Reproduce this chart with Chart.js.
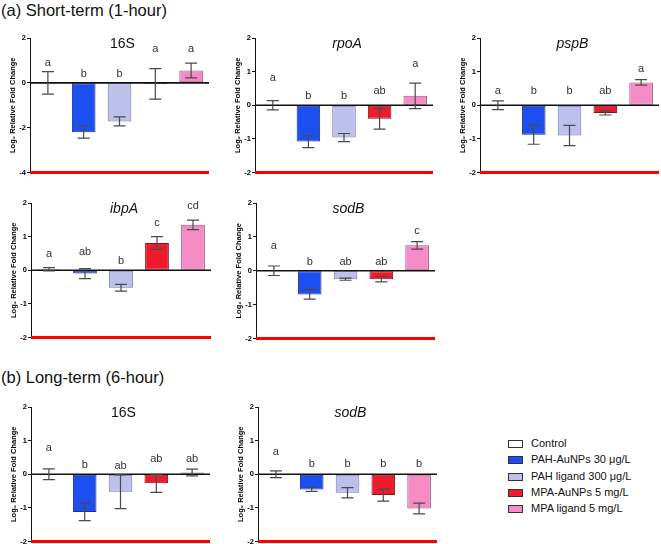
<!DOCTYPE html>
<html>
<head>
<meta charset="utf-8">
<script src="https://cdn.jsdelivr.net/npm/chart.js@4.4.1/dist/chart.umd.min.js"></script>
<style>
  body { margin: 0; background: #fff; font-family: "Liberation Sans", Arial, sans-serif; }
  #wrap { position: relative; width: 661px; height: 544px; overflow: hidden; }
  .head { position: absolute; left: 1px; font-size: 16.5px; color: #111; white-space: nowrap; }
  canvas.panel { position: absolute; }
  .leg { position: absolute; left: 508px; font-size: 11px; color: #111; white-space: nowrap; }
  .leg span.box { position: absolute; left: 0; top: 3px; width: 13px; height: 6px; border: 1px solid #333; }
  .leg span.txt { position: absolute; left: 23px; top: 0; }
</style>
</head>
<body>
<div id="wrap">
  <div class="head" style="top:1px">(a) Short-term (1-hour)</div>
  <div class="head" style="top:368px">(b) Long-term (6-hour)</div>
</div>
<script>
// treatment groups (one bar each per panel)
const groups = ["Control", "PAH-AuNPs 30 μg/L", "PAH ligand 300 μg/L", "MPA-AuNPs 5 mg/L", "MPA ligand 5 mg/L"];
const fills = ["#ffffff", "#1c4ff0", "#bcc0ea", "#ee1b2c", "#f58cc6"];
const borders = ["#555555", "#1a2f8a", "#6f73a8", "#8a1018", "#9a5a7c"];

// (a) short-term, 16S
const s16Mean = [0, -2.2, -1.72, -0.05, 0.55];
const s16Err = [0.5, 0.27, 0.2, 0.68, 0.33];
const s16Letters = ["a", "b", "b", "a", "a"];
const s16LetterY = [0.9, 0.4, 0.4, 1.5, 1.5];

// (a) short-term, rpoA
const rpoMean = [0, -1.08, -0.96, -0.4, 0.28];
const rpoErr = [0.14, 0.18, 0.12, 0.31, 0.38];
const rpoLetters = ["a", "b", "b", "ab", "a"];
const rpoLetterY = [0.81, 0.28, 0.28, 0.41, 1.23];

// (a) short-term, pspB
const pspMean = [0, -0.88, -0.9, -0.23, 0.68];
const pspErr = [0.13, 0.28, 0.3, 0.06, 0.08];
const pspLetters = ["a", "b", "b", "ab", "a"];
const pspLetterY = [0.42, 0.42, 0.42, 0.42, 1.07];

// (a) short-term, ibpA
const ibpMean = [0.03, -0.1, -0.52, 0.81, 1.35];
const ibpErr = [0.05, 0.15, 0.1, 0.19, 0.14];
const ibpLetters = ["a", "ab", "b", "c", "cd"];
const ibpLetterY = [0.48, 0.53, 0.28, 1.42, 1.92];

// (a) short-term, sodB
const sodMean = [0, -0.7, -0.25, -0.25, 0.75];
const sodErr = [0.14, 0.14, 0.03, 0.08, 0.11];
const sodLetters = ["a", "b", "ab", "ab", "c"];
const sodLetterY = [0.74, 0.27, 0.27, 0.27, 1.18];

// (b) long-term, 16S
const l16Mean = [0, -1.12, -0.52, -0.27, 0.05];
const l16Err = [0.16, 0.26, 0.5, 0.27, 0.1];
const l16Letters = ["a", "b", "ab", "ab", "ab"];
const l16LetterY = [0.77, 0.28, 0.26, 0.46, 0.46];

// (b) long-term, sodB
const lsodMean = [0, -0.45, -0.55, -0.62, -1.02];
const lsodErr = [0.1, 0.06, 0.15, 0.18, 0.16];
const lsodLetters = ["a", "b", "b", "b", "b"];
const lsodLetterY = [0.67, 0.3, 0.3, 0.3, 0.3];

// panel layout: plot area box in page pixels
const panels = [
  { title: "16S", italic: false, mean: s16Mean, err: s16Err, letters: s16Letters, ly: s16LetterY, min: -4, step: 2, box: [30, 38, 179, 134] },
  { title: "rpoA", italic: true, mean: rpoMean, err: rpoErr, letters: rpoLetters, ly: rpoLetterY, min: -2, step: 1, box: [255, 38, 178, 134] },
  { title: "pspB", italic: true, mean: pspMean, err: pspErr, letters: pspLetters, ly: pspLetterY, min: -2, step: 1, box: [480, 38, 179, 134] },
  { title: "ibpA", italic: true, mean: ibpMean, err: ibpErr, letters: ibpLetters, ly: ibpLetterY, min: -2, step: 1, box: [31, 203, 180, 134] },
  { title: "sodB", italic: true, mean: sodMean, err: sodErr, letters: sodLetters, ly: sodLetterY, min: -2, step: 1, box: [256, 203, 179, 135] },
  { title: "16S", italic: false, mean: l16Mean, err: l16Err, letters: l16Letters, ly: l16LetterY, min: -2, step: 1, box: [31, 407, 179, 134] },
  { title: "sodB", italic: true, mean: lsodMean, err: lsodErr, letters: lsodLetters, ly: lsodLetterY, min: -2, step: 1, box: [258, 407, 179, 134] }
];

const AXIS_W = 30, PAD_T = 6, PAD_R = 2, PAD_B = 3, X_EXTRA = 3;
const FONT = "'Liberation Sans', Arial, sans-serif";

// bottom axis line, zero line, error bars, letters and panel title
const decor = {
  id: "decor",
  afterDatasetsDraw(chart, args, opts) {
    const ctx = chart.ctx;
    const x = chart.scales.x, y = chart.scales.y;
    const area = chart.chartArea;
    ctx.save();
    // bottom axis line
    ctx.strokeStyle = "red";
    ctx.lineWidth = 3;
    ctx.beginPath();
    ctx.moveTo(area.left, area.bottom);
    ctx.lineTo(area.right, area.bottom);
    ctx.stroke();
    // zero line
    ctx.strokeStyle = "#111";
    ctx.lineWidth = 1.6;
    const y0 = y.getPixelForValue(0);
    ctx.beginPath();
    ctx.moveTo(area.left, y0);
    ctx.lineTo(area.right, y0);
    ctx.stroke();
    // error bars
    ctx.strokeStyle = "#4a4a4a";
    ctx.lineWidth = 1.2;
    opts.mean.forEach((m, i) => {
      const cx = x.getPixelForValue(i);
      const top = y.getPixelForValue(m + opts.err[i]);
      const bot = y.getPixelForValue(m - opts.err[i]);
      ctx.beginPath();
      ctx.moveTo(cx, top); ctx.lineTo(cx, bot);
      ctx.moveTo(cx - 6, top); ctx.lineTo(cx + 6, top);
      ctx.moveTo(cx - 6, bot); ctx.lineTo(cx + 6, bot);
      ctx.stroke();
    });
    // significance letters
    ctx.fillStyle = "#333";
    ctx.font = "11px " + FONT;
    ctx.textAlign = "center";
    ctx.textBaseline = "middle";
    opts.letters.forEach((t, i) => {
      ctx.fillText(t, x.getPixelForValue(i), y.getPixelForValue(opts.ly[i]));
    });
    // title
    ctx.fillStyle = "#111";
    ctx.font = (opts.italic ? "italic " : "") + "14px " + FONT;
    ctx.fillText(opts.title, (area.left + area.right) / 2 + 3, area.top + 6);
    ctx.restore();
  }
};

const wrap = document.getElementById("wrap");

panels.forEach((p) => {
  const [pl, pt, pw, ph] = p.box;
  const cv = document.createElement("canvas");
  cv.className = "panel";
  const cw = AXIS_W + pw + PAD_R, chh = PAD_T + ph + PAD_B + X_EXTRA;
  cv.style.left = (pl - AXIS_W) + "px";
  cv.style.top = (pt - PAD_T) + "px";
  cv.style.width = cw + "px";
  cv.style.height = chh + "px";
  cv.width = cw; cv.height = chh;
  wrap.appendChild(cv);

  new Chart(cv, {
    type: "bar",
    data: {
      labels: groups,
      datasets: [{
        data: p.mean,
        backgroundColor: fills,
        borderColor: borders,
        borderWidth: 1,
        borderSkipped: false,
        barPercentage: 0.66,
        categoryPercentage: 1
      }]
    },
    options: {
      responsive: false,
      animation: false,
      layout: { autoPadding: false, padding: { top: PAD_T, right: PAD_R, bottom: PAD_B, left: 0 } },
      plugins: {
        legend: { display: false },
        tooltip: { enabled: false },
        decor: { title: p.title, italic: p.italic, mean: p.mean, err: p.err, letters: p.letters, ly: p.ly }
      },
      scales: {
        x: {
          grid: { display: false },
          ticks: { display: false },
          border: { display: false },
          afterFit(s) { s.height = 0; }
        },
        y: {
          min: p.min,
          max: 2,
          ticks: {
            stepSize: p.step,
            color: "#000",
            padding: 1,
            font: { family: FONT, size: 7.5, weight: "bold" }
          },
          grid: { display: true, drawOnChartArea: false, drawTicks: true, tickLength: 3, color: "#111" },
          border: { display: true, color: "#111", width: 1 },
          title: {
            display: true,
            text: "Log₂ Relative Fold Change",
            color: "#000",
            padding: { top: 8, bottom: 0 },
            font: { family: FONT, size: 7.5, weight: "bold" }
          },
          afterFit(s) { s.width = AXIS_W; }
        }
      }
    },
    plugins: [decor]
  });
});

// legend
const legTops = [437, 453, 470, 486, 502];
groups.forEach((g, i) => {
  const d = document.createElement("div");
  d.className = "leg";
  d.style.top = legTops[i] + "px";
  d.innerHTML = '<span class="box" style="background:' + fills[i] + '"></span><span class="txt">' + g + "</span>";
  wrap.appendChild(d);
});
</script>
</body>
</html>
